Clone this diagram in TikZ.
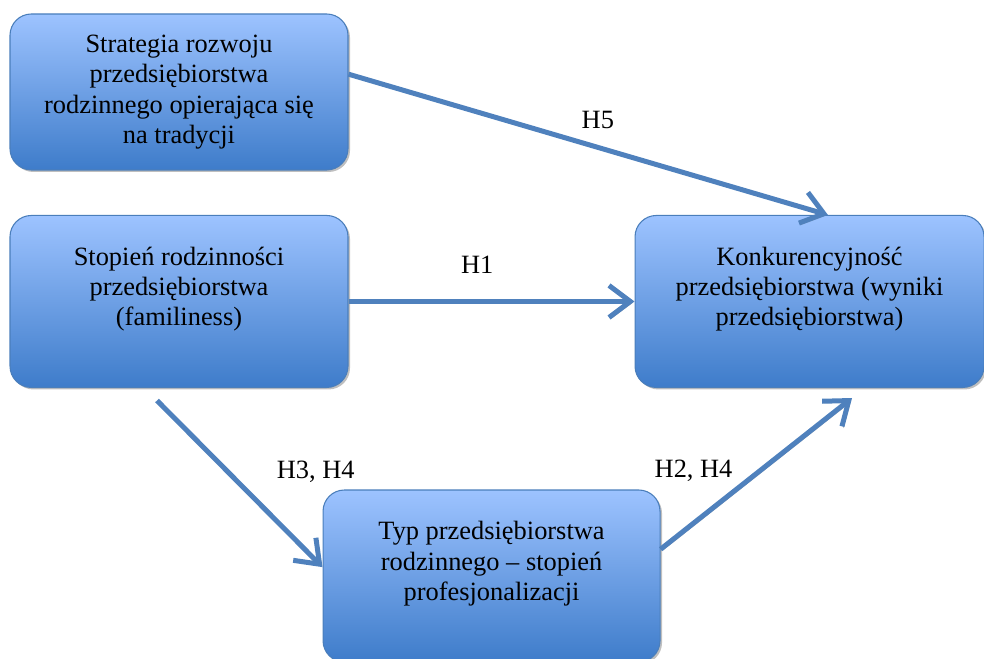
\documentclass[tikz,border=0pt]{standalone}
\usepackage{fontspec}
\setmainfont{Liberation Serif}
\usetikzlibrary{arrows.meta,shadows}

\definecolor{boxtop}{RGB}{157,195,255}
\definecolor{boxmid}{RGB}{112,160,232}
\definecolor{boxbot}{RGB}{62,124,202}
\definecolor{boxline}{RGB}{74,126,187}
\definecolor{hypblue}{RGB}{79,129,189}

\begin{document}
\begin{tikzpicture}[x=0.75pt, y=-0.75pt, node distance=157.1pt,
    box/.style={draw=boxline, line width=0.8pt, rounded corners=16pt,
        top color=boxtop, middle color=boxmid, bottom color=boxbot,
        align=center, inner sep=0pt, font=\fontsize{19.8}{22.7}\selectfont,
        minimum width=253.5pt, minimum height=129pt,
        drop shadow={shadow xshift=1.5pt, shadow yshift=-1.5pt, fill=black!50, opacity=0.5}},
    hyp/.style={draw=hypblue, line width=3.75pt,
        -{Straight Barb[length=16pt, width=24pt]},
        preaction={draw=black!30, transform canvas={shift={(1.2pt,-1.2pt)}}}},
    hyplabel/.style={font=\fontsize{19.8}{22.7}\selectfont, text=black}]
    \useasboundingbox (0,0) rectangle (984,659);

    \node (S) [box, minimum height=117pt] at (179,92) {Strategia rozwoju\\ przedsiębiorstwa\\ rodzinnego opierająca się\\ na tradycji};
    \node (F) [box, below of=S] {Stopień rodzinności\\ przedsiębiorstwa\\ (familiness)\\ \mbox{}};
    \node (K) [box, right of=F, node distance=472.9pt, minimum width=261.75pt] {Konkurencyjność\\ przedsiębiorstwa (wyniki\\ przedsiębiorstwa)\\ \mbox{}};
    \node (T) [box, below of=F, node distance=205.9pt, xshift=234.4pt, minimum width=252.75pt] {Typ przedsiębiorstwa\\ rodzinnego -- stopień\\ profesjonalizacji\\ \mbox{}};

    \draw [hyp] (S.6) to node (h5) [hyplabel, pos=0.52, yshift=20.8pt] {H5} (K.78);
    \draw [hyp] (F.east) to node (h1) [hyplabel, pos=0.45, yshift=27.4pt] {H1} (K.west);
    \draw [hyp] ([shift={(-22,12.5)}]F.south) to node (h34) [hyplabel, pos=0.425, xshift=66.3pt] {H3, H4} (T.177);
    \draw [hyp] (T.9) to node (h24) [hyplabel, pos=0.517, xshift=-49.5pt] {H2, H4} ([shift={(42.5,10)}]K.south);

\end{tikzpicture}
\end{document}
